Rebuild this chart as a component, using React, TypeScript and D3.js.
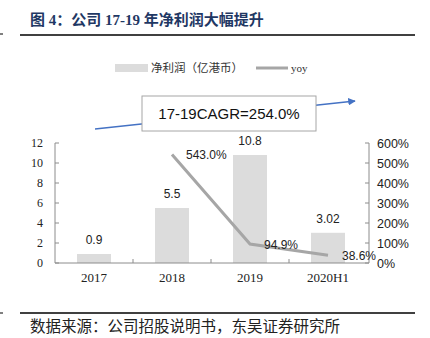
import React from "react";
import * as d3 from "d3";

const categories = ["2017", "2018", "2019", "2020H1"];
const profit = [0.9, 5.5, 10.8, 3.02];
const profitLabels = ["0.9", "5.5", "10.8", "3.02"];
const yoyCats = ["2018", "2019", "2020H1"];
const yoy = [543.0, 94.9, 38.6];
const leftTicks = [0, 2, 4, 6, 8, 10, 12];
const rightTicks = [0, 100, 200, 300, 400, 500, 600];

const W = 430, H = 338;
const plot = { left: 55, right: 367, top: 143, bottom: 263 };

export default function App() {
  const x = d3.scaleBand<string>().domain(categories).range([plot.left, plot.right]);
  const yL = d3.scaleLinear().domain([0, 12]).range([plot.bottom, plot.top]);
  const yR = d3.scaleLinear().domain([0, 600]).range([plot.bottom, plot.top]);
  const barW = 34;
  const cx = (c: string) => (x(c) as number) + x.bandwidth() / 2;
  const line = d3.line<number>().x((_, i) => cx(yoyCats[i])).y((d) => yR(d));
  const serif = "'Liberation Serif', 'Times New Roman', serif";
  const sans = "'Liberation Sans', Arial, sans-serif";
  const cjk = "'Noto Sans CJK SC', sans-serif";
  const axisColor = "#8c8c8c";
  const arrowStart = [95, 129], arrowEnd = [355, 101];

  return (
    <svg width={W} height={H} style={{ position: "absolute", left: 0, top: 0, background: "#fff" }}>
      <defs>
        <marker id="arr" viewBox="0 0 10 10" refX="9" refY="5" markerWidth="5" markerHeight="5" orient="auto" markerUnits="strokeWidth">
          <path d="M0,0 L10,5 L0,10 z" fill="#4472c4" />
        </marker>
      </defs>
      {/* title */}
      <text x={30} y={25} fontSize={15} fontWeight="bold" fill="#1f3864" fontFamily={`${serif}, ${cjk}`}>
        图 4：公司 17-19 年净利润大幅提升
      </text>
      <line x1={20} x2={415} y1={35} y2={35} stroke="#000" strokeWidth={1.5} />
      <line x1={0} x2={3} y1={34} y2={34} stroke="#000" strokeWidth={1} />

      {/* legend */}
      <rect x={115} y={64} width={33} height={8} fill="#dcdcdc" />
      <text x={151} y={72} fontSize={11.5} fill="#333" fontFamily={cjk}>净利润（亿港币）</text>
      <line x1={256} x2={288} y1={68} y2={68} stroke="#a6a6a6" strokeWidth={3} />
      <text x={291} y={72} fontSize={11} fill="#333" fontFamily={serif}>yoy</text>

      {/* bars */}
      {profit.map((v, i) => (
        <g key={categories[i]}>
          <rect x={cx(categories[i]) - barW / 2} y={yL(v)} width={barW} height={plot.bottom - yL(v)} fill="#dcdcdc" />
          <text x={cx(categories[i])} y={yL(v) - 10} textAnchor="middle" fontSize={12} fill="#222" fontFamily={sans}>
            {profitLabels[i]}
          </text>
        </g>
      ))}

      {/* axes */}
      <line x1={plot.left} x2={plot.left} y1={plot.top} y2={plot.bottom} stroke={axisColor} />
      <line x1={plot.right + 2} x2={plot.right + 2} y1={plot.top} y2={plot.bottom} stroke={axisColor} />
      <line x1={plot.left} x2={plot.right + 2} y1={plot.bottom} y2={plot.bottom} stroke={axisColor} />
      {leftTicks.map((t) => (
        <g key={"l" + t}>
          <line x1={plot.left} x2={plot.left + 4} y1={yL(t)} y2={yL(t)} stroke={axisColor} />
          <text x={43} y={yL(t) + 4} textAnchor="end" fontSize={12} fill="#222" fontFamily={serif}>{t}</text>
        </g>
      ))}
      {rightTicks.map((t) => (
        <g key={"r" + t}>
          <line x1={plot.right + 2} x2={plot.right - 2} y1={yR(t)} y2={yR(t)} stroke={axisColor} />
          <text x={377} y={yR(t) + 4.5} fontSize={12.5} fill="#222" fontFamily={sans}>{t}%</text>
        </g>
      ))}
      {categories.slice(1).map((c) => (
        <line key={"t" + c} x1={x(c) as number} x2={x(c) as number} y1={plot.bottom} y2={plot.bottom - 4} stroke={axisColor} />
      ))}
      {categories.map((c) => (
        <text key={"x" + c} x={cx(c)} y={282} textAnchor="middle" fontSize={13} fill="#222" fontFamily={serif}>{c}</text>
      ))}

      {/* yoy line */}
      <path d={line(yoy) || ""} fill="none" stroke="#a6a6a6" strokeWidth={3} />
      {yoy.map((v, i) => (
        <text key={"y" + i} x={cx(yoyCats[i]) + 14} y={yR(v) + 5} fontSize={12} fill="#222" fontFamily={sans}>
          {v.toFixed(1)}%
        </text>
      ))}

      {/* CAGR arrow and box */}
      <line x1={arrowStart[0]} y1={arrowStart[1]} x2={arrowEnd[0]} y2={arrowEnd[1]} stroke="#4472c4" strokeWidth={1.5} markerEnd="url(#arr)" />
      <rect x={142} y={96} width={174} height={35} fill="#fff" stroke="#a6a6a6" strokeWidth={1} />
      <text x={229} y={119} textAnchor="middle" fontSize={15} fill="#111" fontFamily={sans}>17-19CAGR=254.0%</text>

      {/* footer */}
      <line x1={20} x2={415} y1={313} y2={313} stroke="#000" strokeWidth={1.5} />
      <line x1={0} x2={3} y1={313} y2={313} stroke="#000" strokeWidth={1} />
      <text x={30} y={332} fontSize={15.5} fill="#222" fontFamily={cjk}>数据来源：公司招股说明书，东吴证券研究所</text>
    </svg>
  );
}
